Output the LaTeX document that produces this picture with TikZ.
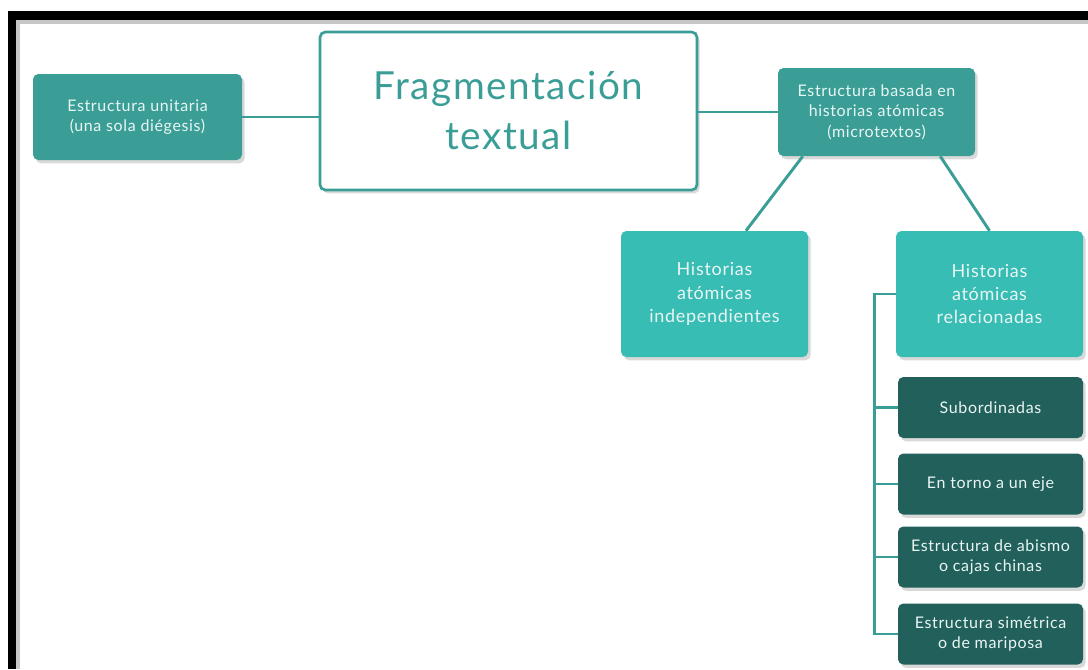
\documentclass[tikz,border=0pt]{standalone}
\usepackage{fontspec}
\setmainfont{Lato}[LetterSpace=4]
\usetikzlibrary{shadows}
\definecolor{tealmid}{HTML}{3A9E96}
\definecolor{teallight}{HTML}{38BDB5}
\definecolor{tealdark}{HTML}{22605B}
\definecolor{boxtext}{HTML}{E9F6F4}
\begin{document}
\begin{tikzpicture}[x=0.75pt,y=-0.75pt,
    box/.style={rounded corners=4pt,align=center,text=boxtext,inner sep=2pt,
        drop shadow={shadow xshift=2pt,shadow yshift=-2.5pt,opacity=0.3}},
    midbox/.style={box,fill=tealmid,font=\fontsize{12}{15.5}\selectfont},
    lightbox/.style={box,fill=teallight,minimum width=140.25pt,minimum height=94.5pt,
        font=\fontsize{13.5}{17.5}\selectfont},
    darkbox/.style={box,fill=tealdark,minimum width=138.75pt,minimum height=45.75pt,
        font=\fontsize{12}{15.5}\selectfont},
    link/.style={draw=tealmid,line width=2.2pt}]
\useasboundingbox (0,0) rectangle (1088,669);
\fill[black!22] (16,20) rectangle (1088,24);
\fill[black!22] (16,20) rectangle (20,669);
\fill[black] (8,11) rectangle (1088,20);
\fill[black] (8,11) rectangle (16,669);

\node[box,fill=white,draw=tealmid,line width=2pt,text=tealmid,
    minimum width=282.75pt,minimum height=118.5pt,
    font=\fontsize{29}{37.5}\selectfont] (frag) at (508.5,111) {Fragmentación\\textual};
\node[midbox,minimum width=156.75pt,minimum height=64.5pt] (unit) at (137.5,117)
    {Estructura unitaria\\(una sola diégesis)};
\node[midbox,minimum width=147.75pt,minimum height=66pt] (basada) at (876.5,112)
    {Estructura basada en\\historias atómicas\\(microtextos)};
\node[lightbox] (indep) at (714.5,294) {Historias\\atómicas\\independientes};
\node[lightbox] (rel) at (989.5,294) {Historias\\atómicas\\relacionadas};
\node[darkbox] (sub) at (990.5,407.5) {Subordinadas};
\node[darkbox] (eje) at (990.5,484) {En torno a un eje};
\node[darkbox] (abismo) at (990.5,557) {Estructura de abismo\\o cajas chinas};
\node[darkbox] (sim) at (990.5,634) {Estructura simétrica\\o de mariposa};

\coordinate (spine) at ([xshift=-15.75pt]rel.west);

\draw[link] (unit.east) -- (unit.east -| frag.west);
\draw[link] (frag.east |- basada.west) -- (basada.west);
\draw[link] ([xshift=18.75pt]basada.south west) -- ([xshift=23.6pt]indep.north);
\draw[link] ([xshift=-26.25pt]basada.south east) -- (rel.north);
\draw[link] (rel.west) -- (spine) |- (sim.west);
\foreach \n in {sub,eje,abismo}
    \draw[link] (spine |- \n.west) -- (\n.west);
\end{tikzpicture}
\end{document}
